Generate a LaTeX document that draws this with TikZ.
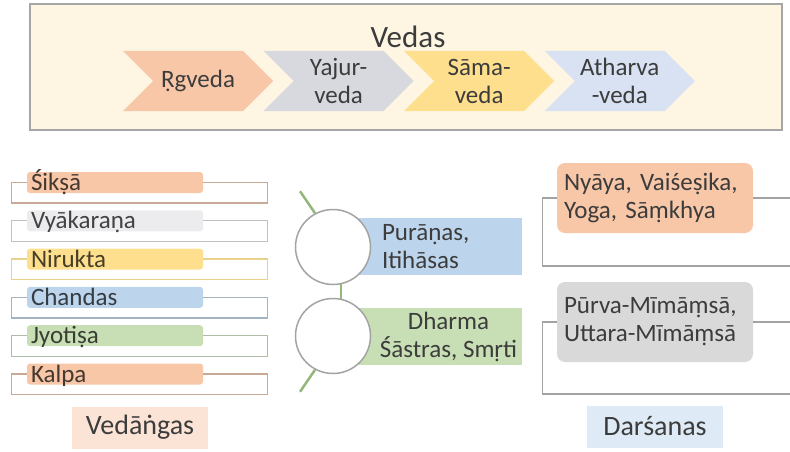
\documentclass[tikz,border=0pt]{standalone}
\usepackage{fontspec}
\setmainfont{Carlito}
\usepackage{xcolor}
\usepackage{tikz}
\usetikzlibrary{shapes.symbols}
\definecolor{ink}{HTML}{3C3C3C}
\definecolor{cream}{HTML}{FEF6E3}
\definecolor{frame}{HTML}{A6A6A6}
\definecolor{salmon}{HTML}{F7C7A8}
\definecolor{greyv}{HTML}{D8D9DF}
\definecolor{gold}{HTML}{FDDF8D}
\definecolor{sky}{HTML}{D8E2F2}
\definecolor{mist}{HTML}{ECECEE}
\definecolor{skyb}{HTML}{BDD5EC}
\definecolor{leaf}{HTML}{C8DFB5}
\definecolor{stone}{HTML}{D9D9D9}
\definecolor{peach}{HTML}{FBE4D5}
\definecolor{ice}{HTML}{DEEAF6}
\definecolor{ring}{HTML}{A3A3A3}
\definecolor{stemc}{HTML}{94B67A}

\begin{document}
\begin{tikzpicture}[x=1pt,y=-1pt,every node/.style={font=\fontsize{25}{28}\selectfont,text=ink},
  veda/.style={shape=signal,signal from=west,signal to=east,signal pointer angle=90,
    minimum width=150pt,minimum height=60pt,inner sep=0pt,align=center},
  bar/.style={rounded corners=3pt,minimum height=21pt,text width=168pt,inner xsep=4pt,inner ysep=0pt,
    text height=17pt,text depth=1pt,align=left},
  plate/.style={minimum width=177pt,inner sep=0pt},
  school/.style={rounded corners=8pt,minimum width=196pt,text width=182pt,inner ysep=0pt,align=left},
  tag/.style={minimum width=136pt,minimum height=42pt,inner sep=0pt,font=\fontsize{28}{32}\selectfont},
  bk/.style={draw=ring,line width=1.2pt},
  stem/.style={draw=stemc,line width=2.5pt}]
  \useasboundingbox (0,0) rectangle (790,452);

  \node[draw=frame,fill=cream,line width=2pt,minimum width=752pt,minimum height=126pt,inner sep=0pt] (top) at (406,67) {};
  \node[font=\fontsize{31}{35}\selectfont] (vedas) at (408,37) {Vedas};
  \foreach \name/\lbl/\fc [count=\i] in {rg/Ṛgveda/salmon,yaj/Yajur-\\veda/greyv,sam/Sāma-\\veda/gold,ath/Atharva\\-veda/sky}
    \node[veda,fill=\fc] (\name) at ({198+140.6*(\i-1)},81) {\lbl};

  \foreach \name/\lbl/\fc/\lc [count=\i] in {sik/Śikṣā/salmon/salmon!60!gray,vya/Vyākaraṇa/mist/mist!60!gray,
      nir/Nirukta/gold/gold!85!gray,cha/Chandas/skyb/skyb!60!gray,jyo/Jyotiṣa/leaf/leaf!65!gray,kal/Kalpa/salmon/salmon!60!gray} {
    \node[bar,fill=\fc,text=\fc!28!black] (\name) at (115,{182.5+38.3*(\i-1)}) {\lbl};
    \draw[\lc,line width=1.3pt] (\name.west) -- ++(-15,0) |- ++(256,20.5) |- (\name.east);
  }
  \node[tag,fill=peach] (vedanga) at (140,427.5) {Vedāṅgas};

  \node[plate,fill=skyb,minimum height=57pt] (purbox) at (433.5,246.5) {};
  \node[plate,fill=leaf,minimum height=57pt] (dhbox) at (433.5,336.5) {};
  \node[anchor=west,align=left,inner sep=0pt] (pur) at ([xshift=37pt]purbox.west) {Purāṇas,\\Itihāsas};
  \node[align=center,inner sep=0pt] (dh) at ([xshift=15pt]dhbox.center) {Dharma\\Śāstras, Smṛti};
  \node[circle,draw=ring,fill=white,line width=1.5pt,minimum size=75pt,inner sep=0pt] (c1) at (333,247) {};
  \node[circle,draw=ring,fill=white,line width=1.5pt,minimum size=75pt,inner sep=0pt] (c2) at (333,336) {};
  \draw[stem] (c1.118) -- ++(-15,-22);
  \draw[stem] (c1.-78) -- (c2.78);
  \draw[stem] (c2.-118) -- ++(-15,22);

  \node[school,fill=salmon,minimum height=70pt] (nya) at (655,198) {Nyāya, Vaiśeṣika,\\Yoga, Sāṃkhya};
  \draw[bk] (nya.west) -- ++(-14,0) |- ++(247,68);
  \draw[bk] (nya.east) -- ++(37,0);
  \node[school,fill=stone,minimum height=80pt] (mim) at (655,322) {Pūrva-Mīmāṃsā,\\Uttara-Mīmāṃsā};
  \draw[bk] (mim.west) -- ++(-14,0) |- ++(247,72);
  \draw[bk] (mim.east) -- ++(37,0);
  \node[tag,fill=ice] (darsana) at (655,426.5) {Darśanas};
\end{tikzpicture}
\end{document}
